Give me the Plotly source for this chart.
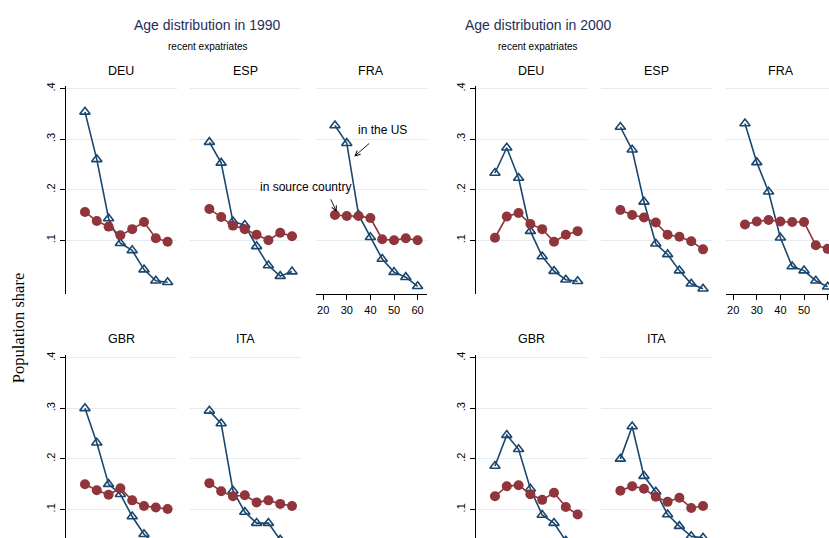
import plotly.graph_objects as go

W, H = 829, 538

ages = [25, 30, 35, 40, 45, 50, 55, 60]
countries = ["DEU", "ESP", "FRA", "GBR", "ITA"]
years = ["1990", "2000"]

# share of recent expatriates living in the US, by age
us_1990_deu = [0.354, 0.260, 0.143, 0.094, 0.080, 0.042, 0.020, 0.017]
us_1990_esp = [0.294, 0.253, 0.137, 0.130, 0.088, 0.050, 0.029, 0.038]
us_1990_fra = [0.327, 0.292, 0.150, 0.106, 0.063, 0.037, 0.027, 0.009]
us_1990_gbr = [0.300, 0.232, 0.150, 0.130, 0.086, 0.051, 0.030, 0.018]
us_1990_ita = [0.295, 0.270, 0.137, 0.095, 0.073, 0.073, 0.040, 0.025]

us_2000_deu = [0.233, 0.283, 0.223, 0.118, 0.068, 0.039, 0.022, 0.019]
us_2000_esp = [0.324, 0.279, 0.176, 0.093, 0.072, 0.040, 0.014, 0.004]
us_2000_fra = [0.331, 0.254, 0.196, 0.105, 0.048, 0.040, 0.020, 0.008]
us_2000_gbr = [0.186, 0.247, 0.219, 0.141, 0.089, 0.073, 0.038, 0.022]
us_2000_ita = [0.200, 0.264, 0.166, 0.135, 0.090, 0.067, 0.047, 0.044]

# share of the population in the source country, by age
src_1990_deu = [0.156, 0.138, 0.127, 0.110, 0.122, 0.136, 0.104, 0.097]
src_1990_esp = [0.162, 0.146, 0.129, 0.122, 0.111, 0.100, 0.115, 0.108]
src_1990_fra = [0.150, 0.148, 0.148, 0.144, 0.102, 0.100, 0.104, 0.100]
src_1990_gbr = [0.150, 0.138, 0.129, 0.142, 0.118, 0.107, 0.104, 0.101]
src_1990_ita = [0.152, 0.136, 0.126, 0.128, 0.114, 0.118, 0.111, 0.107]

src_2000_deu = [0.105, 0.147, 0.154, 0.132, 0.122, 0.097, 0.111, 0.118]
src_2000_esp = [0.160, 0.150, 0.145, 0.135, 0.111, 0.107, 0.098, 0.082]
src_2000_fra = [0.131, 0.137, 0.140, 0.137, 0.136, 0.136, 0.090, 0.083]
src_2000_gbr = [0.126, 0.146, 0.148, 0.130, 0.119, 0.133, 0.105, 0.090]
src_2000_ita = [0.137, 0.146, 0.141, 0.125, 0.115, 0.123, 0.103, 0.107]

y_tickvals = [0.1, 0.2, 0.3, 0.4]
y_ticktext = [".1", ".2", ".3", ".4"]
x_tickvals = [20, 30, 40, 50, 60]
x_ticktext = ["20", "30", "40", "50", "60"]

us_data = {
    "1990": [us_1990_deu, us_1990_esp, us_1990_fra, us_1990_gbr, us_1990_ita],
    "2000": [us_2000_deu, us_2000_esp, us_2000_fra, us_2000_gbr, us_2000_ita],
}
src_data = {
    "1990": [src_1990_deu, src_1990_esp, src_1990_fra, src_1990_gbr, src_1990_ita],
    "2000": [src_2000_deu, src_2000_esp, src_2000_fra, src_2000_gbr, src_2000_ita],
}

BLUE = "#1a476f"
RED = "#90353b"
GRID = "#e3ecf0"
TITLE_C = "#1f2d5a"
SANS = "Liberation Sans, Arial, sans-serif"
SERIF = "Liberation Serif, Times New Roman, serif"

# panel geometry in pixels
group_x0 = {"1990": [65.6, 190.0, 315.6], "2000": [475.6, 601.0, 725.6]}
PANEL_W = 111.0
X_MIN, X_MAX = 16.8, 63.8
PX_PER_YR = PANEL_W / (X_MAX - X_MIN)
top_row = (83.0, 293.0)
bot_row_top = 353.7
Y_TOP = 0.406
Y_BOT_TOP_ROW = -0.007
PX_PER_UNIT = (top_row[1] - top_row[0]) / (Y_TOP - Y_BOT_TOP_ROW)


def fx(px):
    return px / W


def fy(py):
    return 1 - py / H


fig = go.Figure()
layout = dict(
    width=W, height=H, autosize=False,
    margin=dict(l=0, r=0, t=0, b=0),
    paper_bgcolor="white", plot_bgcolor="white",
    showlegend=False,
)
annotations = []

idx = 0
for year in years:
    for ci, cname in enumerate(countries):
        idx += 1
        row = 0 if ci < 3 else 1
        col = ci if ci < 3 else ci - 3
        x0 = group_x0[year][col]
        x1 = x0 + PANEL_W
        xr = [X_MIN, X_MAX]
        if x1 > W:
            xr = [X_MIN, X_MIN + (W - x0) / PX_PER_YR]
            x1 = W
        if row == 0:
            ydom = [fy(top_row[1]), fy(top_row[0])]
            yr = [Y_BOT_TOP_ROW, Y_TOP]
        else:
            ydom = [0, fy(bot_row_top)]
            yr = [Y_TOP - (H - bot_row_top) / PX_PER_UNIT, Y_TOP]
        xa = "xaxis" if idx == 1 else f"xaxis{idx}"
        ya = "yaxis" if idx == 1 else f"yaxis{idx}"
        xs = "x" if idx == 1 else f"x{idx}"
        ys = "y" if idx == 1 else f"y{idx}"
        show_x = cname == "FRA"
        show_y = col == 0
        layout[xa] = dict(
            domain=[fx(x0), fx(x1)], range=xr, anchor=ys,
            showgrid=False, zeroline=False, fixedrange=True,
            showline=show_x, linecolor="black", linewidth=1,
            ticks="outside" if show_x else "", ticklen=5, tickcolor="black",
            tickvals=x_tickvals, ticktext=x_ticktext,
            showticklabels=show_x,
            tickfont=dict(family=SANS, size=11, color="black"),
        )
        layout[ya] = dict(
            domain=ydom, range=yr, anchor=xs,
            showgrid=True, gridcolor=GRID, gridwidth=1.2, zeroline=False,
            fixedrange=True,
            showline=show_y, linecolor="black", linewidth=1,
            ticks="outside" if show_y else "", ticklen=5, tickcolor="black",
            tickvals=y_tickvals, ticktext=y_ticktext,
            showticklabels=show_y, tickangle=-90,
            tickfont=dict(family=SANS, size=11, color="black"),
        )
        fig.add_trace(go.Scatter(
            x=ages, y=us_data[year][ci], xaxis=xs, yaxis=ys,
            mode="lines+markers", name="in the US",
            line=dict(color=BLUE, width=1.6),
            marker=dict(symbol="triangle-up-open", size=9, color=BLUE,
                        line=dict(width=1.6, color=BLUE)),
        ))
        fig.add_trace(go.Scatter(
            x=ages, y=src_data[year][ci], xaxis=xs, yaxis=ys,
            mode="lines+markers", name="in source country",
            line=dict(color=RED, width=1.6),
            marker=dict(symbol="circle", size=10, color=RED),
        ))
        # panel title
        ty = 68 if row == 0 else 338
        annotations.append(dict(
            x=fx(x0 + PANEL_W / 2), y=fy(ty), xref="paper", yref="paper",
            text=cname, showarrow=False, xanchor="center", yanchor="middle",
            font=dict(family=SANS, size=12.5, color="black"),
        ))

# group titles
for year, cx in (("1990", 207.5), ("2000", 538.0)):
    annotations.append(dict(
        x=fx(cx), y=fy(22.5), xref="paper", yref="paper",
        text=f"Age distribution in {year}", showarrow=False,
        xanchor="center", yanchor="middle",
        font=dict(family=SANS, size=14, color=TITLE_C),
    ))
    annotations.append(dict(
        x=fx(cx), y=fy(44), xref="paper", yref="paper",
        text="recent expatriates", showarrow=False,
        xanchor="center", yanchor="middle",
        font=dict(family=SANS, size=10, color="black"),
    ))

# y-axis title
annotations.append(dict(
    x=fx(18), y=fy(327), xref="paper", yref="paper",
    text="Population share", showarrow=False, textangle=-90,
    xanchor="center", yanchor="middle",
    font=dict(family=SERIF, size=16.5, color="black"),
))

# labels in the FRA 1990 panel (paper coordinates)
annotations.append(dict(
    x=fx(382), y=fy(128), xref="paper", yref="paper", text="in the US",
    showarrow=False, xanchor="center", yanchor="middle",
    font=dict(family=SANS, size=12, color="black"),
))
annotations.append(dict(
    x=fx(354.3), y=fy(154.3), xref="paper", yref="paper", text="",
    showarrow=True, ax=16.4, ay=-14.3, arrowhead=5, arrowsize=1.1,
    arrowwidth=0.9, arrowcolor="black", standoff=0,
))
annotations.append(dict(
    x=fx(305), y=fy(185), xref="paper", yref="paper",
    text="in source country", showarrow=False,
    xanchor="center", yanchor="middle",
    font=dict(family=SANS, size=12, color="black"),
))
annotations.append(dict(
    x=fx(336.7), y=fy(210), xref="paper", yref="paper", text="",
    showarrow=True, ax=-6.7, ay=-14, arrowhead=5, arrowsize=1.1,
    arrowwidth=0.9, arrowcolor="black", standoff=0,
))

layout["annotations"] = annotations
fig.update_layout(**layout)
fig.write_html(
    "out.html",
    config={"displayModeBar": False},
    post_script="document.body.style.margin='0px';document.body.style.overflow='hidden';",
)
